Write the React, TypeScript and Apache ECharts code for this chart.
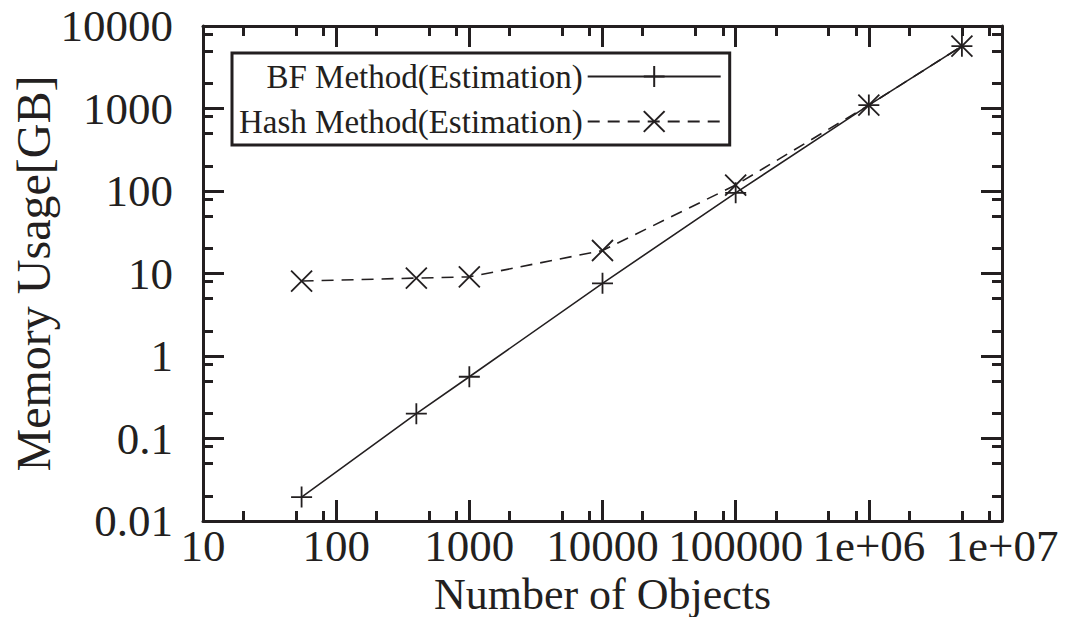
import React, { useEffect, useRef } from "react";
import * as echarts from "echarts";

const xValues = [55, 400, 1000, 10000, 100000, 1000000, 5000000];
const bfValues = [0.0195, 0.2, 0.56, 7.6, 95, 1100, 5700];
const hashValues = [8.1, 8.8, 9.1, 19, 118, 1100, 5700];

const xMajorTicks = [10, 100, 1000, 10000, 100000, 1000000, 10000000];
const xMinorTicks = [20, 50, 80, 200, 500, 800, 2000, 5000, 8000, 20000, 50000, 80000, 200000, 500000, 800000, 2000000, 5000000, 8000000];
const yMajorTicks = [0.01, 0.1, 1, 10, 100, 1000, 10000];
const yMinorTicks = [0.02, 0.05, 0.08, 0.2, 0.5, 0.8, 2, 5, 8, 20, 50, 80, 200, 500, 800, 2000, 5000, 8000];

const seriesNames = ["BF Method(Estimation)", "Hash Method(Estimation)"];

const INK = "#231f20";
const FONT = "'Liberation Serif', 'Times New Roman', Times, serif";

const fmtX = (v: number) => {
  const e = Math.round(Math.log10(v));
  if (e >= 6) return "1e+0" + e;
  return String(Math.round(v));
};
const fmtY = (v: number) => {
  const e = Math.round(Math.log10(v));
  if (e < 0) return (Math.pow(10, e)).toFixed(-e);
  return String(Math.round(v));
};

function makeAxis(kind: "x" | "y", position: string, majors: boolean, showLine: boolean, showLabel: boolean, min: number, max: number) {
  const ticks = kind === "x" ? (majors ? xMajorTicks : xMinorTicks) : (majors ? yMajorTicks : yMinorTicks);
  return {
    type: "log",
    logBase: 10,
    position,
    min,
    max,
    axisLine: { show: showLine, onZero: false, lineStyle: { color: INK, width: 3 } },
    axisTick: {
      show: true,
      inside: true,
      length: majors ? 21 : 10,
      customValues: ticks,
      lineStyle: { color: INK, width: 3 },
    },
    axisLabel: {
      show: showLabel,
      customValues: ticks,
      color: INK,
      fontFamily: FONT,
      fontSize: 45,
      lineHeight: 38,
      margin: kind === "x" ? 6 : 30,
      formatter: kind === "x" ? fmtX : fmtY,
    },
    splitLine: { show: false },
    minorTick: { show: false },
    minorSplitLine: { show: false },
  };
}

export default function App() {
  const ref = useRef<HTMLDivElement>(null);
  useEffect(() => {
    document.body.style.margin = "0";
    const chart = echarts.init(ref.current!, null, { renderer: "svg" });
    const xAxes = [
      {
        ...makeAxis("x", "bottom", true, true, true, 10, 1e7),
        name: "Number of Objects",
        nameLocation: "middle",
        nameGap: 54,
        nameMoveOverlap: false,
        nameTextStyle: { color: INK, fontFamily: FONT, fontSize: 44, lineHeight: 38 },
      },
      makeAxis("x", "bottom", false, false, false, 10, 1e7),
      makeAxis("x", "top", true, true, false, 10, 1e7),
      makeAxis("x", "top", false, false, false, 10, 1e7),
    ];
    const yAxes = [
      {
        ...makeAxis("y", "left", true, true, true, 0.01, 10000),
        name: "Memory Usage[GB]",
        nameLocation: "middle",
        nameGap: 146,
        nameMoveOverlap: false,
        nameTextStyle: { color: INK, fontFamily: FONT, fontSize: 48 },
      },
      makeAxis("y", "left", false, false, false, 0.01, 10000),
      makeAxis("y", "right", true, true, false, 0.01, 10000),
      makeAxis("y", "right", false, false, false, 0.01, 10000),
    ];
    chart.setOption({
      animation: false,
      backgroundColor: "#ffffff",
      grid: { left: 203, right: 69, top: 26, bottom: 96, outerBoundsMode: "none", containLabel: false },
      xAxis: xAxes,
      yAxis: yAxes,
      legend: {
        data: seriesNames,
        orient: "vertical",
        align: "right",
        left: 232,
        top: 53,
        itemWidth: 133,
        itemHeight: 26,
        itemGap: 12,
        padding: [7, 8, 7, 7],
        borderColor: INK,
        borderWidth: 3,
        backgroundColor: "#ffffff",
        textStyle: { color: INK, fontFamily: FONT, fontSize: 33 },
      },
      series: [
        {
          name: seriesNames[0],
          type: "line",
          xAxisIndex: 0,
          yAxisIndex: 0,
          data: xValues.map((x, i) => [x, bfValues[i]]),
          symbol: "path://M0,10L20,10M10,0L10,20",
          symbolSize: 21,
          itemStyle: { color: INK, borderColor: INK, borderWidth: 1.8 },
          lineStyle: { color: INK, width: 1.6 },
          z: 3,
        },
        {
          name: seriesNames[1],
          type: "line",
          xAxisIndex: 0,
          yAxisIndex: 0,
          data: xValues.map((x, i) => [x, hashValues[i]]),
          symbol: "path://M0,0L20,20M20,0L0,20",
          symbolSize: 21,
          itemStyle: { color: INK, borderColor: INK, borderWidth: 1.8 },
          lineStyle: { color: INK, width: 1.6, type: [12, 8] },
          z: 3,
        },
      ],
    });
    return () => chart.dispose();
  }, []);
  return <div ref={ref} style={{ width: 1071, height: 617 }} />;
}
